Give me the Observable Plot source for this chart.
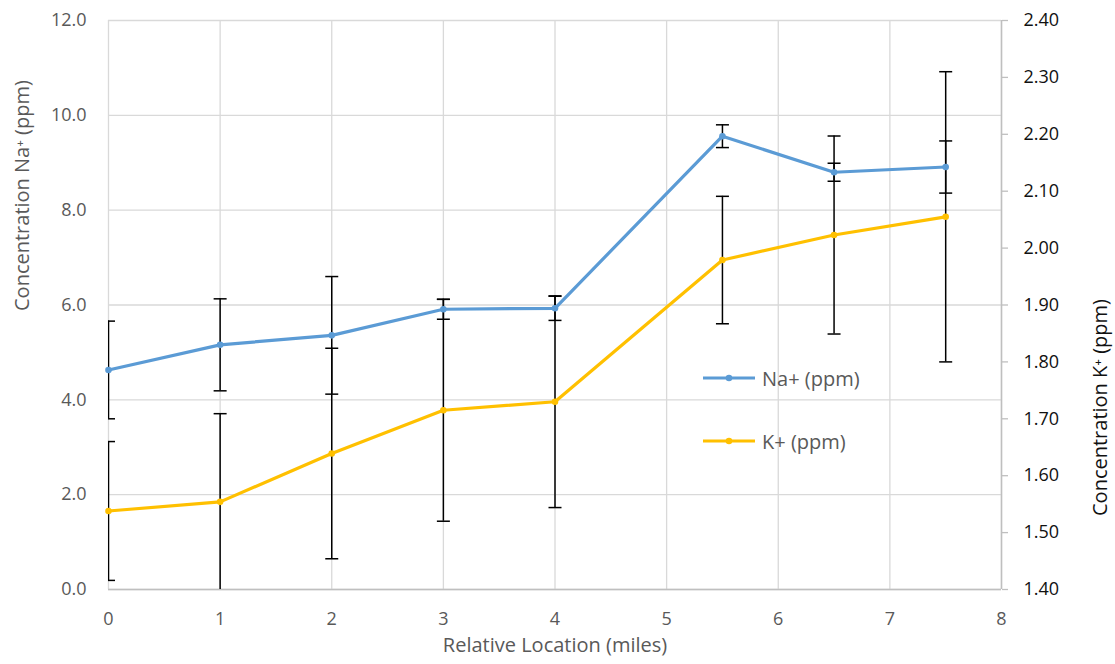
<!DOCTYPE html>
<html>
<head>
<meta charset="utf-8">
<script src="https://cdn.jsdelivr.net/npm/d3@7"></script>
<script src="https://cdn.jsdelivr.net/npm/@observablehq/plot@0.6"></script>
<style>
  html, body { margin: 0; padding: 0; background: #fff; overflow: hidden; }
  #wrap { position: relative; width: 1115px; height: 664px; font-family: "Open Sans", sans-serif; }
  #wrap > svg { display: block; }
  #legend { position: absolute; left: 702px; top: 362px; color: #595959; font-size: 20px; }
  .item { display: flex; align-items: center; height: 32px; margin-bottom: 31px; }
  .item svg { margin-right: 6px; }
</style>
</head>
<body>
<div id="wrap"><div id="legend"></div></div>
<script>
// ---- data ----
const locations = [0, 1, 2, 3, 4, 5.5, 6.5, 7.5];
const naValues  = [4.63, 5.16, 5.36, 5.91, 5.93, 9.56, 8.80, 8.91];
const naErrors  = [1.03, 0.97, 1.24, 0.21, 0.255, 0.24, 0.19, 0.55];
const kValues   = [1.538, 1.554, 1.639, 1.715, 1.730, 1.979, 2.023, 2.055];
const kErrors   = [0.122, 0.155, 0.185, 0.195, 0.186, 0.112, 0.174, 0.255];
const xTicks    = [0, 1, 2, 3, 4, 5, 6, 7, 8];
const naTicks   = [0, 2, 4, 6, 8, 10, 12];
const kTicks    = [1.4, 1.5, 1.6, 1.7, 1.8, 1.9, 2.0, 2.1, 2.2, 2.3, 2.4];
const seriesNames = ["Na+ (ppm)", "K+ (ppm)"];
const seriesColors = ["#5B9BD5", "#FFC000"];

// map K+ (secondary axis) into Na+ units (primary axis)
const naMax = 12, kMin = 1.4, kMax = 2.4;
const kToNa = k => (k - kMin) / (kMax - kMin) * naMax;
const naToK = v => kMin + v / naMax * (kMax - kMin);

const rows = locations.map((x, i) => ({
  x,
  na: naValues[i], naLo: naValues[i] - naErrors[i], naHi: naValues[i] + naErrors[i],
  k: kToNa(kValues[i]), kLo: kToNa(kValues[i] - kErrors[i]), kHi: kToNa(kValues[i] + kErrors[i])
}));

// horizontal-bar symbol for error bar caps
const capSymbol = { draw(ctx, size) { const r = Math.sqrt(size / Math.PI); ctx.moveTo(-r, 0); ctx.lineTo(r, 0); } };

const textColor = "#595959";
const gridColor = "#D9D9D9";
const axisColor = "#BFBFBF";

const chart = Plot.plot({
  width: 1115,
  height: 664,
  marginLeft: 108,
  marginRight: 114,
  marginTop: 20,
  marginBottom: 75,
  style: { fontFamily: "'Open Sans', sans-serif", fontSize: "18px", color: textColor, background: "#fff" },
  x: { domain: [0, 8] },
  y: { domain: [0, naMax] },
  marks: [
    Plot.gridX(xTicks, { stroke: gridColor, strokeOpacity: 1, strokeWidth: 1.3 }),
    Plot.gridY(naTicks, { stroke: gridColor, strokeOpacity: 1, strokeWidth: 1.3 }),
    Plot.ruleY([0], { stroke: axisColor, strokeWidth: 1.5 }),
    Plot.ruleX([8], { stroke: axisColor, strokeWidth: 1.5 }),
    Plot.axisX({ ticks: xTicks, tickSize: 0, tickPadding: 23, label: null, fill: textColor, fontSize: 18 }),
    Plot.axisY({ anchor: "left", ticks: naTicks, tickSize: 0, tickPadding: 22, tickFormat: d => d.toFixed(1), label: null, fill: textColor, fontSize: 18 }),
    Plot.axisY({ anchor: "right", ticks: kTicks.map(kToNa), tickSize: 6, tickPadding: 16, stroke: axisColor, strokeWidth: 1.3,
      tickFormat: d => naToK(d).toFixed(2), label: null, fill: "#111", fontSize: 18 }),
    Plot.text(["Relative Location (miles)"], { frameAnchor: "bottom", dy: 62.5, fill: textColor, fontSize: 20 }),
    Plot.text(["Concentration Na\u207A (ppm)"], { frameAnchor: "left", dx: -86, dy: 6, rotate: -90, fill: textColor, fontSize: 20 }),
    Plot.text(["Concentration K\u207A (ppm)"], { frameAnchor: "right", dx: 99, dy: -6, rotate: -90, fill: "#111", fontSize: 20 }),
    // error bars
    Plot.ruleX(rows, { x: "x", y1: "naLo", y2: "naHi", stroke: "#000", strokeWidth: 1.5, clip: true }),
    Plot.dot(rows, { x: "x", y: "naLo", symbol: capSymbol, r: 6.5, stroke: "#000", strokeWidth: 1.5, clip: true }),
    Plot.dot(rows, { x: "x", y: "naHi", symbol: capSymbol, r: 6.5, stroke: "#000", strokeWidth: 1.5, clip: true }),
    Plot.ruleX(rows, { x: "x", y1: "kLo", y2: "kHi", stroke: "#000", strokeWidth: 1.5, clip: true }),
    Plot.dot(rows, { x: "x", y: "kLo", symbol: capSymbol, r: 6.5, stroke: "#000", strokeWidth: 1.5, clip: true }),
    Plot.dot(rows, { x: "x", y: "kHi", symbol: capSymbol, r: 6.5, stroke: "#000", strokeWidth: 1.5, clip: true }),
    // series
    Plot.line(rows, { x: "x", y: "na", stroke: seriesColors[0], strokeWidth: 3.2 }),
    Plot.dot(rows, { x: "x", y: "na", r: 3.3, fill: seriesColors[0] }),
    Plot.line(rows, { x: "x", y: "k", stroke: seriesColors[1], strokeWidth: 3.2 }),
    Plot.dot(rows, { x: "x", y: "k", r: 3.3, fill: seriesColors[1] })
  ]
});

const wrap = document.getElementById("wrap");
wrap.insertBefore(chart, wrap.firstChild);

// legend
const legend = d3.select("#legend");
seriesNames.forEach((name, i) => {
  const item = legend.append("div").attr("class", "item");
  const s = item.append("svg").attr("width", 54).attr("height", 12);
  s.append("line").attr("x1", 1).attr("x2", 53).attr("y1", 6).attr("y2", 6)
    .attr("stroke", seriesColors[i]).attr("stroke-width", 3.2);
  s.append("circle").attr("cx", 27).attr("cy", 6).attr("r", 3.3).attr("fill", seriesColors[i]);
  item.append("span").text(name);
});
</script>
</body>
</html>
